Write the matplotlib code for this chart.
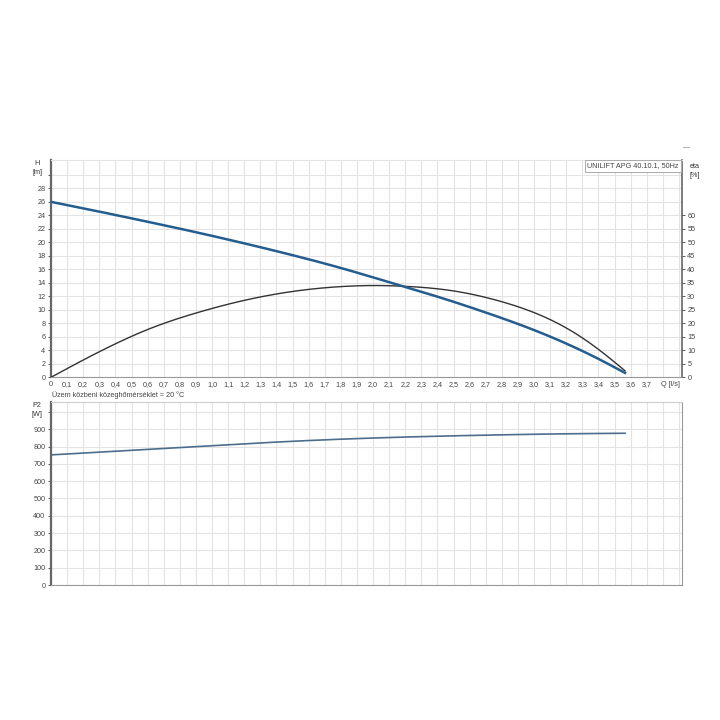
import matplotlib.pyplot as plt
import numpy as np

# Pump curve data (Q in l/s)
q_h = [0.0, 0.3, 0.6, 0.9, 1.2, 1.5, 1.8, 2.1, 2.4, 2.7, 3.0, 3.2, 3.4, 3.565]
head = [26.0, 24.55, 23.05, 21.5, 19.85, 18.1, 16.2, 14.1, 11.95, 9.6, 7.0, 5.0, 2.73, 0.65]

q_eta = [0.0, 0.2, 0.4, 0.6, 0.9, 1.2, 1.5, 1.8, 2.0, 2.2, 2.5, 2.8, 3.04, 3.29, 3.48, 3.565]
eta = [0.0, 6.4, 12.4, 17.7, 23.8, 28.5, 31.8, 33.6, 34.0, 33.7, 32.0, 28.0, 23.0, 15.0, 6.6, 2.4]

q_p = [0.0, 0.45, 0.9, 1.4, 1.92, 2.4, 2.8, 3.2, 3.565]
p2 = [752, 776, 800, 826, 847, 860, 868, 874, 877]

q_ticks = [round(0.1 * i, 1) for i in range(38)]
h_ticks = list(range(0, 30, 2))
eta_ticks = list(range(0, 65, 5))
p_ticks = list(range(0, 1000, 100))

title = 'UNILIFT APG 40.10.1, 50Hz'
note = 'Üzem közbeni közeghőmérséklet = 20 °C'

plt.rcParams['font.family'] = ['Liberation Sans', 'DejaVu Sans']
fs = 5.2
grid_c = '#e3e3e3'
spine_c = '#666666'
text_c = '#444444'


def spline(x, y, n=300):
    # natural cubic spline through the read points, just for a smooth line
    x = np.asarray(x, float)
    y = np.asarray(y, float)
    k = len(x)
    h = np.diff(x)
    A = np.zeros((k, k))
    b = np.zeros(k)
    A[0, 0] = A[-1, -1] = 1
    for i in range(1, k - 1):
        A[i, i - 1] = h[i - 1]
        A[i, i] = 2 * (h[i - 1] + h[i])
        A[i, i + 1] = h[i]
        b[i] = 6 * ((y[i + 1] - y[i]) / h[i] - (y[i] - y[i - 1]) / h[i - 1])
    M = np.linalg.solve(A, b)
    xs = np.linspace(x[0], x[-1], n)
    idx = np.clip(np.searchsorted(x, xs) - 1, 0, k - 2)
    x0, x1 = x[idx], x[idx + 1]
    hh = x1 - x0
    t0, t1 = x1 - xs, xs - x0
    ys = (M[idx] * t0**3 + M[idx + 1] * t1**3) / (6 * hh) \
        + (y[idx] / hh - M[idx] * hh / 6) * t0 + (y[idx + 1] / hh - M[idx + 1] * hh / 6) * t1
    return xs, ys


fig = plt.figure(figsize=(7.2, 7.2), dpi=100)
W, H = 720, 720
ax = fig.add_axes([51 / W, 1 - 377.3 / H, (681.7 - 51) / W, (377.3 - 160) / H])
ax2 = fig.add_axes([51 / W, 1 - 585 / H, (681.7 - 51) / W, (585 - 402.3) / H])

xmax = 3.917
all_q = [round(0.1 * i, 1) for i in range(40)]

# ---- upper chart: head and efficiency ----
ax.set_xlim(0, xmax)
ax.set_ylim(0, 32.2)
ax.set_xticks(all_q)
ax.set_xticklabels(['0' if t == 0 else f'{t:.1f}'.replace('.', ',') if t in q_ticks else ''
                    for t in all_q])
ax.set_yticks(list(range(0, 32, 2)))
ax.set_yticklabels([str(v) if v in h_ticks else '' for v in range(0, 32, 2)])
ax.grid(True, color=grid_c, lw=0.8)
ax.set_axisbelow(True)
ax.tick_params(axis='both', labelsize=fs, colors=text_c, length=2.5, width=0.6, pad=1.5)
ax.tick_params(axis='x', length=0, pad=3)
ax.spines['top'].set_color(grid_c)
ax.spines['left'].set_color(spine_c)
ax.spines['left'].set_linewidth(1.6)
ax.spines['bottom'].set_color('#999999')
ax.spines['right'].set_color(spine_c)
ax.spines['right'].set_linewidth(1.2)

# efficiency scale on the right: 2.5 % per metre
axe = ax.twinx()
axe.set_ylim(0, 32.2 * 2.5)
axe.set_yticks(eta_ticks)
axe.tick_params(axis='y', labelsize=fs, colors=text_c, length=2.5, width=0.6, pad=1.5)
for s in axe.spines.values():
    s.set_visible(False)

xs, ys = spline(q_eta, eta)
ax.plot(xs, ys / 2.5, color='#333333', lw=1.0, zorder=3)
xs, ys = spline(q_h, head)
ax.plot(xs, ys, color='#245d8e', lw=1.8, zorder=4)

ax.text(-0.022, 1.0, 'H\n[m]', transform=ax.transAxes, ha='center', va='top',
        fontsize=fs, color='#333333', linespacing=1.3)
ax.text(1.013, 0.985, 'eta\n[%]', transform=ax.transAxes, ha='left', va='top',
        fontsize=fs, color='#333333', linespacing=1.3)
ax.text(3.85, -0.55, 'Q [l/s]', ha='center', va='top', fontsize=fs, color=text_c)
ax.text(0.995, 0.99, title, transform=ax.transAxes, ha='right', va='top', fontsize=fs,
        color=text_c, zorder=5,
        bbox=dict(boxstyle='square,pad=0.35', fc='white', ec='#aaaaaa', lw=0.7))
fig.text(52 / W, 1 - 395 / H, note, fontsize=fs, color=text_c, va='center')
fig.text(683 / W, 1 - 148 / H, '—', fontsize=fs, color='#666666', va='center')

# ---- lower chart: power ----
ax2.set_xlim(0, xmax)
ax2.set_ylim(0, 1056)
ax2.set_xticks(all_q)
ax2.set_xticklabels([])
ax2.set_yticks(list(range(0, 1100, 100)))
ax2.set_yticklabels([str(v) if v in p_ticks else '' for v in range(0, 1100, 100)])
ax2.grid(True, color=grid_c, lw=0.8)
ax2.set_axisbelow(True)
ax2.tick_params(axis='y', labelsize=fs, colors=text_c, length=2.5, width=0.6, pad=1.5)
ax2.tick_params(axis='x', length=0)
ax2.spines['top'].set_color('#cccccc')
ax2.spines['right'].set_color('#999999')
ax2.spines['bottom'].set_color('#999999')
ax2.spines['left'].set_color(spine_c)
ax2.spines['left'].set_linewidth(1.6)
xs, ys = spline(q_p, p2)
ax2.plot(xs, ys, color='#4d6d8d', lw=1.2)
ax2.text(-0.022, 1.0, 'P2\n[W]', transform=ax2.transAxes, ha='center', va='top',
         fontsize=fs, color='#333333', linespacing=1.3)

fig.savefig('out.png', dpi=100, facecolor='white')
